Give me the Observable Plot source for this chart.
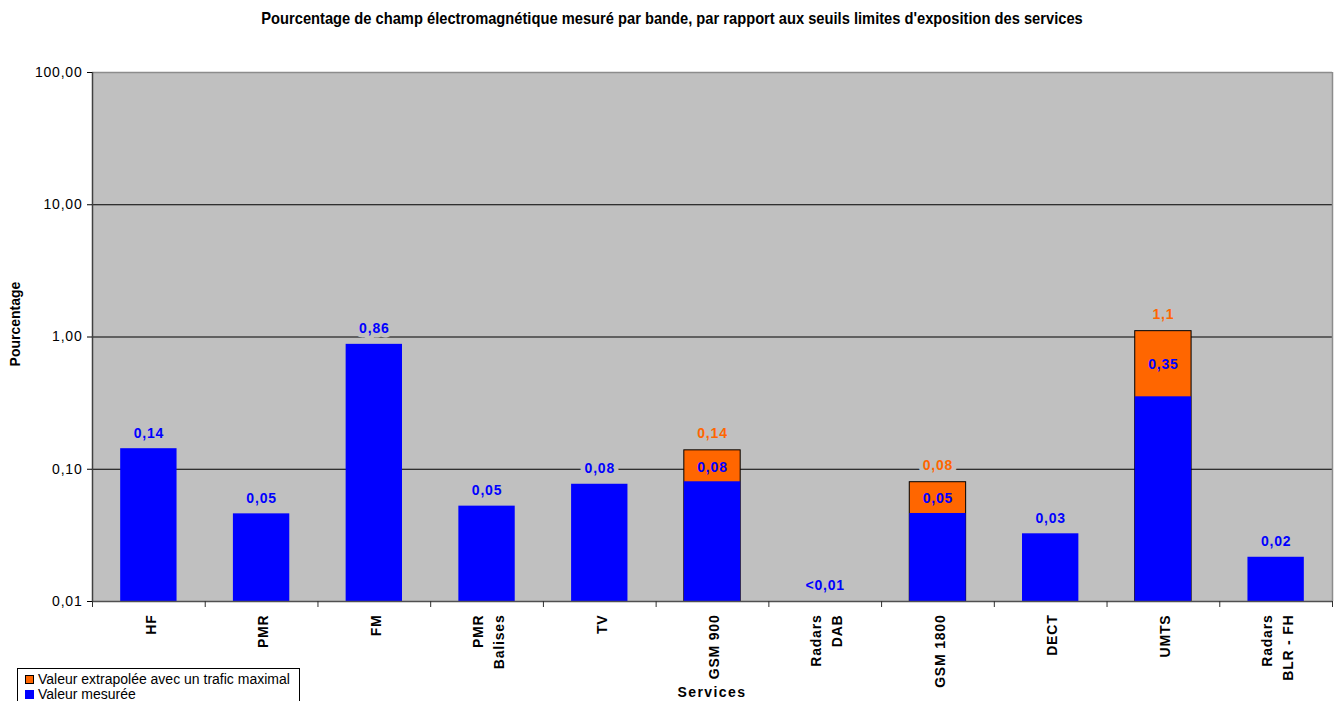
<!DOCTYPE html>
<html>
<head>
<meta charset="utf-8">
<script src="https://cdn.jsdelivr.net/npm/d3@7"></script>
<script src="https://cdn.jsdelivr.net/npm/@observablehq/plot@0.6"></script>
<style>
  body { margin: 0; background: #fff; font-family: "Liberation Sans", Arial, sans-serif; }
  #wrap { position: relative; width: 1338px; height: 702px; overflow: hidden; }
  #chart { position: absolute; left: 0; top: 0; }
  #title { position: absolute; left: 3px; width: 1338px; top: 11px; text-align: center; font-weight: bold; font-size: 13px; transform: scale(1.13, 1.22); }
  #ylab { position: absolute; left: 15px; top: 324px; font-weight: bold; font-size: 14px; white-space: nowrap; transform: translate(-50%, -50%) rotate(-90deg); }
  #xlab { position: absolute; left: 712px; top: 692px; font-weight: bold; font-size: 14px; letter-spacing: 1.4px; white-space: nowrap; transform: translate(-50%, -50%); }
  #legend { position: absolute; left: 17px; top: 668px; width: 281px; height: 32px; border: 1px solid #000; border-bottom: none; background: #fff; font-size: 14px; }
  #legend .item { position: absolute; left: 7px; height: 15px; line-height: 15px; white-space: nowrap; }
  #legend .sw { display: inline-block; width: 9px; height: 9px; margin-right: 4px; vertical-align: 0px; box-sizing: border-box; }
</style>
</head>
<body>
<div id="wrap">
  <div id="chart"></div>
  <div id="title"></div>
  <div id="ylab"></div>
  <div id="xlab"></div>
  <div id="legend"></div>
</div>
<script>
const titleText = "Pourcentage de champ électromagnétique mesuré par bande, par rapport aux seuils limites d'exposition des services";
const yLabel = "Pourcentage";
const xLabel = "Services";
const categories = ["HF", "PMR", "FM", "PMR\nBalises", "TV", "GSM 900", "Radars\nDAB", "GSM 1800", "DECT", "UMTS", "Radars\nBLR - FH"];
const measured = [0.143, 0.046, 0.88, 0.0526, 0.077, 0.0804, null, 0.0463, 0.0325, 0.353, 0.0216];
const extrapolated = [null, null, null, null, null, 0.139, null, 0.0798, null, 1.107, null];
const measuredLabels = ["0,14", "0,05", "0,86", "0,05", "0,08", "0,08", "<0,01", "0,05", "0,03", "0,35", "0,02"];
const extrapolatedLabels = [null, null, null, null, null, "0,14", null, "0,08", null, "1,1", null];
const seriesNames = ["Valeur extrapolée avec un trafic maximal", "Valeur mesurée"];
const seriesColors = ["#FF6600", "#0000FF"];
const yTicks = [0.01, 0.1, 1, 10, 100];
const gridValues = [0.1, 1, 10];

const W = 1338, H = 702, mL = 92, mR = 6, mT = 72, mB = 101;
const step = (W - mL - mR) / categories.length;
const floor = 0.01;
const rows = categories.map((c, i) => ({cat: c, m: measured[i], e: extrapolated[i], ml: measuredLabels[i], el: extrapolatedLabels[i]}));
const stacked = rows.filter(r => r.e != null);
const single = rows.filter(r => r.e == null);
const fmt = d => d3.format(".2f")(d).replace(".", ",");
const last = categories[categories.length - 1];

const chart = Plot.plot({
  width: W, height: H,
  marginLeft: mL, marginRight: mR, marginTop: mT, marginBottom: mB,
  style: {fontFamily: '"Liberation Sans", Arial, sans-serif', fontSize: "14px", background: "transparent", color: "black"},
  x: {type: "band", domain: categories, paddingInner: 0.5, paddingOuter: 0.25, round: false, label: null},
  y: {type: "log", domain: [0.01, 100], label: null},
  marks: [
    Plot.frame({fill: "#C0C0C0"}),
    Plot.ruleY(gridValues, {stroke: "black", strokeWidth: 1}),
    Plot.barY(stacked, {x: "cat", y1: () => floor, y2: "e", fill: seriesColors[0], stroke: "black", strokeWidth: 1}),
    Plot.barY(rows.filter(r => r.m != null), {x: "cat", y1: () => floor, y2: "m", fill: seriesColors[1]}),
    Plot.ruleY([100], {stroke: "#8c8c8c", strokeWidth: 1.5}),
    Plot.ruleX([last], {dx: step / 2, stroke: "#8c8c8c", strokeWidth: 1.5}),
    Plot.ruleX([categories[0]], {dx: -step / 2, stroke: "#404040", strokeWidth: 1.5}),
    Plot.ruleY([floor], {stroke: "#505050", strokeWidth: 1.5}),
    Plot.ruleX(categories, {x: d => d, y1: () => floor, y2: () => floor, insetBottom: -6, dx: -step / 2, stroke: "#303030"}),
    Plot.ruleX([last], {x: d => d, y1: () => floor, y2: () => floor, insetBottom: -6, dx: step / 2, stroke: "#303030"}),
    Plot.axisY({ticks: yTicks, tickFormat: fmt, tickSize: 5, tickPadding: 5, label: null, fontSize: 14}),
    Plot.axisX({tickSize: 0, tickPadding: 13, tickRotate: -90, label: null, fontWeight: "bold", lineHeight: 1.5, fontSize: 14}),
    Plot.text(single, {x: "cat", y: r => r.m ?? floor, text: "ml", dy: -15.5, fill: seriesColors[1], fontWeight: "bold", fontSize: 14, stroke: "#C0C0C0", strokeWidth: 9, paintOrder: "stroke"}),
    Plot.text(stacked, {x: "cat", y: r => Math.sqrt(r.m * r.e), text: "ml", dy: 1, fill: seriesColors[1], fontWeight: "bold", fontSize: 14}),
    Plot.text(stacked, {x: "cat", y: "e", text: "el", dy: -17, fill: seriesColors[0], fontWeight: "bold", fontSize: 14, stroke: "#C0C0C0", strokeWidth: 9, paintOrder: "stroke"})
  ]
});
const sel = d3.select(chart);
sel.selectAll('g[aria-label="y-axis tick label"]').style("letter-spacing", "0.8px");
sel.selectAll('g[aria-label="x-axis tick label"]').style("letter-spacing", "0.8px");
sel.selectAll('g[aria-label="text"]').style("letter-spacing", "0.8px");
document.getElementById("chart").appendChild(chart);
document.getElementById("title").textContent = titleText;
document.getElementById("ylab").textContent = yLabel;
document.getElementById("xlab").textContent = xLabel;
const legend = document.getElementById("legend");
seriesNames.forEach((name, i) => {
  const item = document.createElement("div");
  item.className = "item";
  item.style.top = (3 + i * 15) + "px";
  const sw = document.createElement("span");
  sw.className = "sw";
  sw.style.background = seriesColors[i];
  if (i === 0) sw.style.border = "1px solid #000";
  item.appendChild(sw);
  item.appendChild(document.createTextNode(name));
  legend.appendChild(item);
});
</script>
</body>
</html>
